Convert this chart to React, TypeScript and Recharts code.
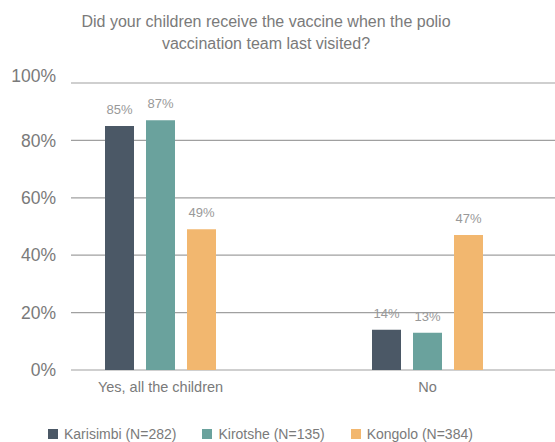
import React from 'react'
import { BarChart, Bar, XAxis, YAxis, CartesianGrid, LabelList } from 'recharts'

const categories = ['Yes, all the children', 'No']
const karisimbi = [85, 14]
const kirotshe = [87, 13]
const kongolo = [49, 47]
const seriesNames = ['Karisimbi (N=282)', 'Kirotshe (N=135)', 'Kongolo (N=384)']
const seriesKeys = ['karisimbi', 'kirotshe', 'kongolo']
const colors = ['#4b5866', '#6aa29d', '#f2b76f']
const yTicks = [0, 20, 40, 60, 80, 100]

const data = categories.map((c, i) => ({
  category: c,
  karisimbi: karisimbi[i],
  kirotshe: kirotshe[i],
  kongolo: kongolo[i]
}))

const FONT = '"Liberation Sans", Arial, sans-serif'
const TEXT = '#7a7a7a'

const YTick = (props: any) => {
  const { x, y, payload } = props
  // top label sits a little higher than its gridline in the original
  const shift = payload.value === 100 ? -7 : 0
  return (
    <text x={x} y={y + shift} dy="0.355em" textAnchor="end" fill={TEXT}
      fontSize={17.5} fontFamily={FONT}>
      {payload.value}%
    </text>
  )
}

export default function App() {
  return (
    <div style={{ position: 'relative', width: 555, height: 442, fontFamily: FONT, color: TEXT }}>
      <style>{'body{margin:0;overflow:hidden}'}</style>
      <div style={{
        position: 'absolute', left: 0, top: 11, width: 532, textAlign: 'center',
        fontSize: 16, lineHeight: '22px'
      }}>
        Did your children receive the vaccine when the polio<br />vaccination team last visited?
      </div>
      <BarChart width={555} height={442} data={data}
        margin={{ top: 83, right: 0, left: 0, bottom: 42 }}
        barSize={29} barGap={12}>
        <CartesianGrid vertical={false} stroke="#a0a0a0" strokeWidth={1.2} />
        <XAxis dataKey="category" axisLine={false} tickLine={false} tickMargin={6} height={30}
          padding={{ left: -44, right: -6 }}
          tick={{ fill: TEXT, fontSize: 14.5, fontFamily: FONT }} />
        <YAxis domain={[0, 100]} ticks={yTicks} width={71} axisLine={false}
          tickLine={false} tickMargin={9} tick={<YTick />} />
        {seriesKeys.map((k, i) => (
          <Bar key={k} dataKey={k} name={seriesNames[i]} fill={colors[i]} isAnimationActive={false}>
            <LabelList dataKey={k} position="top" offset={12}
              formatter={(v: any) => `${v}%`}
              style={{ fill: '#999', fontSize: 13, fontFamily: FONT }} />
          </Bar>
        ))}
      </BarChart>
      <div style={{
        position: 'absolute', left: 48, top: 425, display: 'flex', alignItems: 'center',
        fontSize: 14, lineHeight: '18px'
      }}>
        {seriesNames.map((n, i) => (
          <div key={n} style={{ display: 'flex', alignItems: 'center', marginRight: 26 }}>
            <span style={{ width: 10, height: 10, background: colors[i], marginRight: 6, display: 'inline-block' }} />
            <span>{n}</span>
          </div>
        ))}
      </div>
    </div>
  )
}
